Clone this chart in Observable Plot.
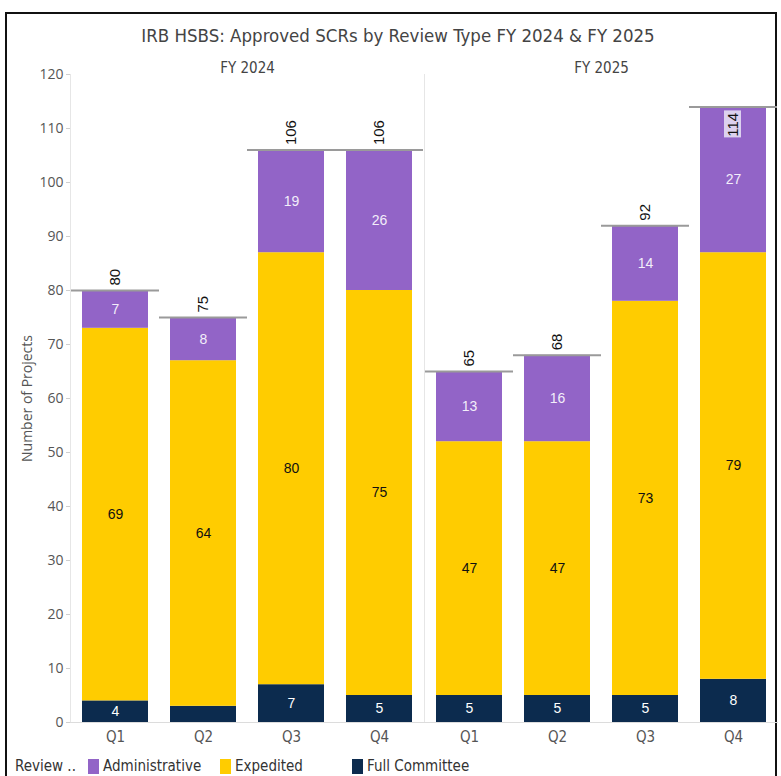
<!DOCTYPE html>
<html>
<head>
<meta charset="utf-8">
<script src="https://cdn.jsdelivr.net/npm/d3@7"></script>
<script src="https://cdn.jsdelivr.net/npm/@observablehq/plot@0.6"></script>
<style>
  html, body { margin: 0; padding: 0; background: #fff; overflow: hidden; width: 781px; height: 776px; }
  #frame { position: absolute; left: 5px; top: 12px; width: 772px; height: 800px; border: 2px solid #111; box-sizing: border-box; }
  #title { position: absolute; left: 0; top: 25px; width: 796px; text-align: center; font: 18.5px "DejaVu Sans Condensed", sans-serif; color: #444; }
  #chart { position: absolute; left: 0; top: 50px; }
  #legend { position: absolute; left: 15px; top: 757px; font: 15px "DejaVu Sans Condensed", sans-serif; color: #333; display: flex; align-items: center; white-space: nowrap; }
  #legend .lead { width: 73px; color: #333; }
  #legend .item { display: flex; align-items: center; width: 132px; }
  #legend .sw { width: 11px; height: 15px; margin-right: 4px; }
</style>
</head>
<body>
<div id="frame"></div>
<div id="title">IRB HSBS: Approved SCRs by Review Type FY 2024 &amp; FY 2025</div>
<div id="chart"></div>
<div id="legend"></div>
<script>
// ---- data ----
const fiscalYears = ["FY 2024", "FY 2025"];
const quarters = ["Q1", "Q2", "Q3", "Q4"];
const reviewTypes = ["Administrative", "Expedited", "Full Committee"];
const stackOrder = ["Full Committee", "Expedited", "Administrative"];
const typeColors = ["#9264c7", "#ffcc00", "#0c2b4e"];
const labelColors = ["#f3eefa", "#111111", "#ffffff"];
// per bar, in order FY2024 Q1..Q4, FY2025 Q1..Q4
const barYear = ["FY 2024", "FY 2024", "FY 2024", "FY 2024", "FY 2025", "FY 2025", "FY 2025", "FY 2025"];
const barQuarter = ["Q1", "Q2", "Q3", "Q4", "Q1", "Q2", "Q3", "Q4"];
const fullCommittee = [4, 3, 7, 5, 5, 5, 5, 8];
const expedited = [69, 64, 80, 75, 47, 47, 73, 79];
const administrative = [7, 8, 19, 26, 13, 16, 14, 27];
const totals = [80, 75, 106, 106, 65, 68, 92, 114];
const yTicks = [0, 10, 20, 30, 40, 50, 60, 70, 80, 90, 100, 110, 120];

// ---- build tables ----
const seriesByType = {"Administrative": administrative, "Expedited": expedited, "Full Committee": fullCommittee};
const rows = [];
barYear.forEach((fy, i) => {
  stackOrder.forEach(t => {
    rows.push({fy, quarter: barQuarter[i], type: t, value: seriesByType[t][i]});
  });
});
const totalRows = barYear.map((fy, i) => ({fy, quarter: barQuarter[i], total: totals[i]}));
const labelColorOf = Object.fromEntries(reviewTypes.map((t, i) => [t, labelColors[i]]));
const outside = totalRows.filter(d => d.total <= 110);
const inside = totalRows.filter(d => d.total > 110);

const chart = Plot.plot({
  width: 781,
  height: 700,
  marginLeft: 69,
  marginRight: 3,
  marginTop: 24,
  marginBottom: 28,
  style: {background: "transparent"},
  fx: {domain: fiscalYears, padding: 0, label: null},
  x: {domain: quarters, paddingInner: 0.245, paddingOuter: 0.1225, label: null},
  y: {domain: [0, 120], label: null},
  color: {domain: reviewTypes, range: typeColors},
  marks: [
    Plot.frame({anchor: "left", stroke: "#e6e6e6"}),
    Plot.axisFx({anchor: "top", tickSize: 0, tickPadding: 2, fontSize: 15, fontFamily: "DejaVu Sans Condensed", color: "#444", label: null}),
    Plot.axisX({anchor: "bottom", tickSize: 0, tickPadding: 9, fontSize: 15, fontFamily: "DejaVu Sans Condensed", color: "#555", label: null}),
    Plot.axisY({ticks: yTicks, tickSize: 4, tickPadding: 3, fontSize: 14, fontFamily: "Open Sans", color: "#555", stroke: "#cfcfcf",
      label: "Number of Projects", labelAnchor: "center", labelArrow: "none", labelOffset: 48}),
    Plot.barY(rows, Plot.stackY({fx: "fy", x: "quarter", y: "value", fill: "type", order: stackOrder})),
    Plot.ruleY([0], {stroke: "#dcdcdc"}),
    Plot.text(rows, Plot.stackY({
      fx: "fy", x: "quarter", y: "value", z: "type", order: stackOrder,
      text: d => (d.value >= 4 ? String(d.value) : null),
      fill: d => labelColorOf[d.type], fontSize: 14, fontFamily: "Liberation Sans"
    })),
    Plot.tickY(totalRows, {fx: "fy", x: "quarter", y: "total", stroke: "#9a9a9a", strokeWidth: 2, insetLeft: -11, insetRight: -11}),
    Plot.text(outside, {
      fx: "fy", x: "quarter", y: "total", text: d => String(d.total), rotate: -90,
      textAnchor: "start", dy: -5, fill: "#111", fontSize: 15, fontFamily: "Liberation Sans"
    }),
    // light box behind a total label that sits inside its bar
    Plot.barY(inside, {
      fx: "fy", x: "quarter", y1: "total", y2: "total", fill: "#dcd1ef",
      insetTop: 4, insetBottom: -31, insetLeft: 24, insetRight: 25
    }),
    Plot.text(inside, {
      fx: "fy", x: "quarter", y: "total", text: d => String(d.total), rotate: -90,
      textAnchor: "end", dy: 6, fill: "#111", fontSize: 15, fontFamily: "Liberation Sans"
    })
  ]
});
document.getElementById("chart").appendChild(chart);

// legend
const legend = document.getElementById("legend");
const lead = document.createElement("span");
lead.className = "lead";
lead.textContent = "Review ..";
legend.appendChild(lead);
reviewTypes.forEach((t, i) => {
  const item = document.createElement("span");
  item.className = "item";
  const sw = document.createElement("span");
  sw.className = "sw";
  sw.style.background = typeColors[i];
  const lab = document.createElement("span");
  lab.textContent = t;
  item.appendChild(sw);
  item.appendChild(lab);
  legend.appendChild(item);
});
</script>
</body>
</html>
